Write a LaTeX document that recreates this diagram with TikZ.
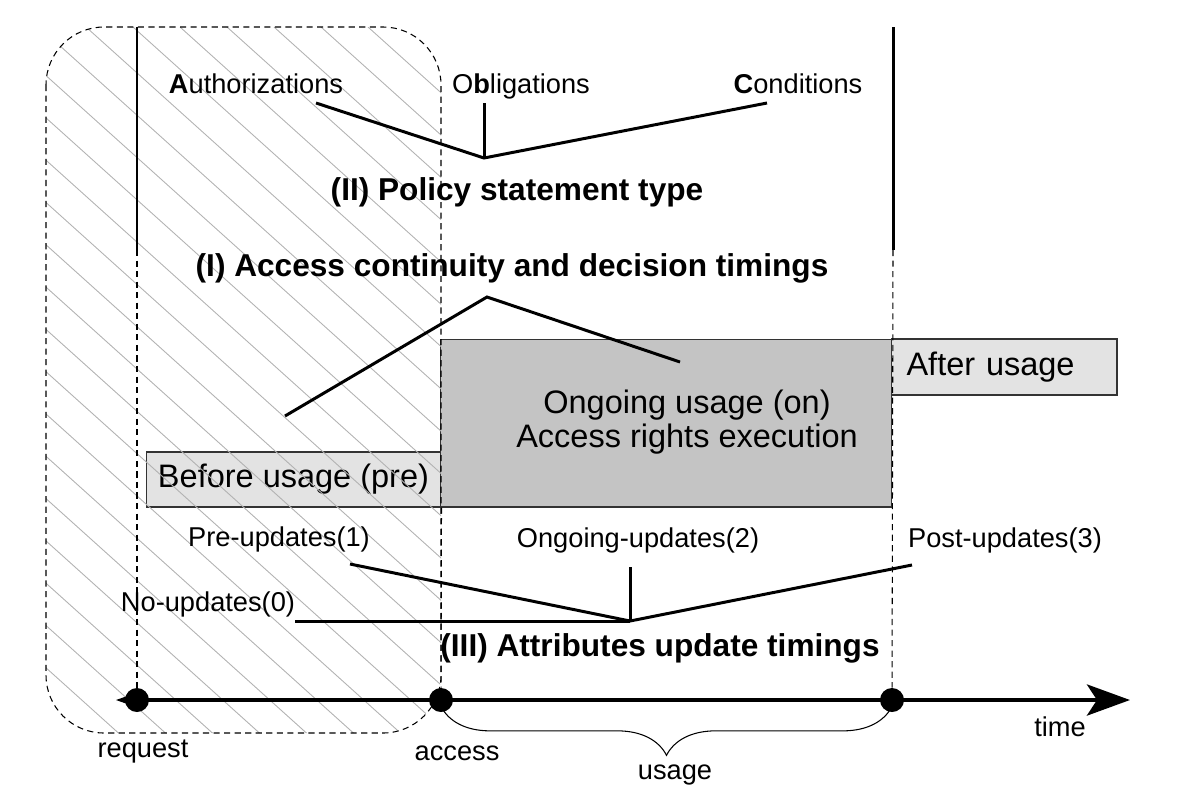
\documentclass[tikz,border=0pt]{standalone}
\usepackage{fontspec}
\setmainfont{Liberation Sans}
\usetikzlibrary{arrows.meta,positioning,decorations.pathreplacing}

\tikzset{
  lbl/.style={font=\fontsize{15.5}{18}\selectfont, inner sep=0pt},
  heading/.style={font=\fontsize{18}{21}\selectfont\bfseries, inner sep=0pt},
  stage/.style={rectangle, draw=black!80, line width=0.6pt, inner sep=0pt, font=\fontsize{18.5}{22}\selectfont},
  link/.style={line width=1.7pt},
  guide/.style={line width=0.6pt, dash pattern=on 3.5pt off 2.5pt},
  timedot/.style={circle, fill=black, inner sep=0pt, minimum size=0.48cm},
}

\begin{document}
\begin{tikzpicture}[x=0.02cm, y=-0.02cm]
    \useasboundingbox (0,0) rectangle (1185,809);

    % usage phases
    \node (pre) [stage, fill=gray!22, minimum width=5.9cm, minimum height=1.1cm] at (293.5,479.5) {Before usage (pre)};
    \node (on) [stage, fill=gray!46, minimum width=9.02cm, minimum height=3.36cm] at (666,423) {};
    \node (ontext) [font=\fontsize{18.5}{19.8}\selectfont, align=center, inner sep=0pt] at (687,422) {Ongoing usage (on)\\Access rights execution};
    \node (post) [stage, fill=gray!22, minimum width=4.52cm, minimum height=1.12cm, text width=3.9cm, align=left] at (1004,367) {After usage};

    % hatched pre-access area
    \begin{scope}
        \clip [rounded corners=1.16cm] (46,27) rectangle (441,733);
        \foreach \k in {-760,-713,...,440}
            \draw [gray!60, line width=0.5pt] (\k,27) -- ++(800,720);
    \end{scope}
    \draw [guide, rounded corners=1.16cm] (46,27) rectangle (441,733);

    % time axis
    \node (req) [timedot] at (137,700) {};
    \node (acc) [timedot] at (441,700) {};
    \node (fin) [timedot] at (892,700) {};
    \coordinate (tend) at (1130,700);
    \fill (116,700) -- (133,694) -- (133,706) -- cycle;
    \draw [line width=2.8pt, -{Stealth[length=0.86cm, width=0.62cm, inset=0.2cm]}] (req.center) -- (tend);

    \node (reqlbl) [lbl] at (143,752) {request};
    \node (acclbl) [lbl] at (457,753) {access};
    \node (timelbl) [lbl] at (1060,727) {time};
    \node (uselbl) [lbl] at (675,775) {usage};
    \draw [decorate, decoration={brace, mirror, amplitude=0.98cm}, line width=0.6pt]
        ([yshift=0.12cm]acc.south) -- ([yshift=0.12cm]fin.south);

    % phase borders
    \coordinate (ltop) at (137,27);
    \coordinate (lmid) at (137,250);
    \coordinate (rtop) at (893,27);
    \coordinate (rmid) at (893,250);
    \draw [link] (ltop) -- (lmid);
    \draw [link] (rtop) -- (rmid);
    \draw [guide] (lmid) -- (req);
    \draw [guide] (rmid) -- (fin);
    \draw [guide] (pre.south east) -- (acc);

    % (II) policy statement type
    \node (auth) [lbl, anchor=base] at (256,93) {{\bfseries A}uthorizations};
    \node (obl) [lbl, anchor=base] at (521,93) {O{\bfseries b}ligations};
    \node (cond) [lbl, anchor=base] at (798,93) {{\bfseries C}onditions};
    \node (poltype) [heading] at (517,192) {(II) Policy statement type};
    \coordinate (polapex) at (484,158);
    \coordinate (authend) at (316,103);
    \coordinate (oblend) at (484,103);
    \coordinate (condend) at (767,103);
    \draw [link] (authend) -- (polapex) -- (condend);
    \draw [link] (oblend) -- (polapex);

    % (I) access continuity
    \node (contin) [heading] at (512,268) {(I) Access continuity and decision timings};
    \coordinate (conapex) at (487,297);
    \coordinate (conpre) at (285,416);
    \coordinate (conon) at (680,362);
    \draw [link] (conpre) -- (conapex) -- (conon);

    % (III) attribute updates
    \node (upd0) [lbl] at (208,604) {No-updates(0)};
    \node (upd1) [lbl] at (279,539) {Pre-updates(1)};
    \node (upd2) [lbl] at (638,540) {Ongoing-updates(2)};
    \node (upd3) [lbl] at (1005,540) {Post-updates(3)};
    \node (updtype) [heading] at (660,648) {(III) Attributes update timings};
    \coordinate (updapex) at (630,621);
    \coordinate (end0) at (295,621);
    \coordinate (end1) at (350,564);
    \coordinate (end2) at (630,567);
    \coordinate (end3) at (912,565);
    \draw [link] (end0) -- (updapex);
    \draw [link] (end1) -- (updapex) -- (end3);
    \draw [link] (end2) -- (updapex);
\end{tikzpicture}
\end{document}
